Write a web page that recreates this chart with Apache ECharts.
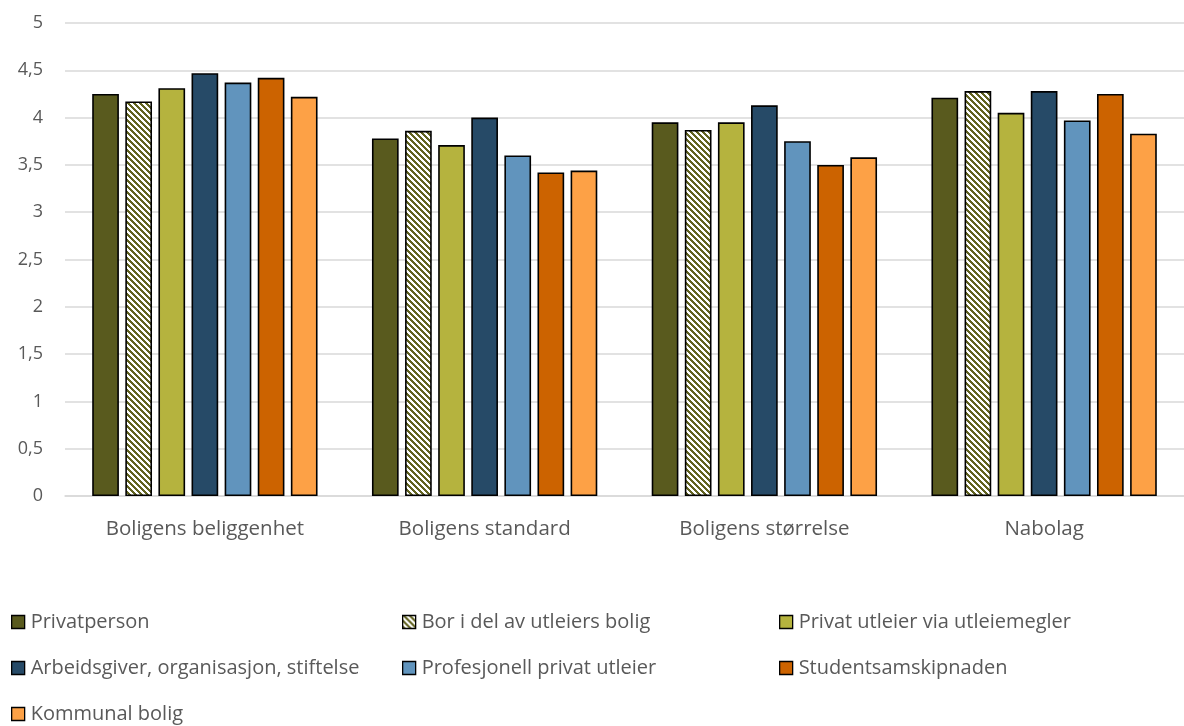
<!DOCTYPE html>
<html>
<head>
<meta charset="utf-8">
<script src="https://cdn.jsdelivr.net/npm/echarts@6/dist/echarts.min.js"></script>
<style>
  html, body { margin: 0; padding: 0; background: #fff; overflow: hidden; }
  #chart { width: 1184px; height: 726px; }
</style>
</head>
<body>
<div id="chart"></div>
<script>
// Satisfaction with housing aspects by type of landlord (scale 0–5)
const categories = ['Boligens beliggenhet', 'Boligens standard', 'Boligens størrelse', 'Nabolag'];

const privatperson      = [4.25, 3.78, 3.95, 4.21];
const borIDel           = [4.17, 3.86, 3.87, 4.28];
const utleiemegler      = [4.31, 3.71, 3.95, 4.05];
const arbeidsgiver      = [4.47, 4.00, 4.13, 4.28];
const profesjonell      = [4.37, 3.60, 3.75, 3.97];
const studentsamskipnad = [4.42, 3.42, 3.50, 4.25];
const kommunal          = [4.22, 3.44, 3.58, 3.83];

const seriesNames = [
  'Privatperson',
  'Bor i del av utleiers bolig',
  'Privat utleier via utleiemegler',
  'Arbeidsgiver, organisasjon, stiftelse',
  'Profesjonell privat utleier',
  'Studentsamskipnaden',
  'Kommunal bolig'
];
const seriesValues = [privatperson, borIDel, utleiemegler, arbeidsgiver, profesjonell, studentsamskipnad, kommunal];

const yTicks = ['0', '0,5', '1', '1,5', '2', '2,5', '3', '3,5', '4', '4,5', '5'];

// crisp diagonal olive stripes on white for the hatched series
function stripeTile() {
  const size = 6;
  const c = document.createElement('canvas');
  c.width = size; c.height = size;
  const ctx = c.getContext('2d');
  const img = ctx.createImageData(size, size);
  for (let y = 0; y < size; y++) {
    for (let x = 0; x < size; x++) {
      const on = ((x - y) % size + size) % size < 3;
      const p = (y * size + x) * 4;
      img.data[p]     = on ? 0x62 : 0xff;
      img.data[p + 1] = on ? 0x63 : 0xff;
      img.data[p + 2] = on ? 0x20 : 0xff;
      img.data[p + 3] = 255;
    }
  }
  ctx.putImageData(img, 0, 0);
  return c;
}

const colors = [
  '#595a1e',
  { image: stripeTile(), repeat: 'repeat' },
  '#b5b33e',
  '#264a67',
  '#6194bd',
  '#cc6300',
  '#fda146'
];

const chart = echarts.init(document.getElementById('chart'), null, { renderer: 'canvas' });

const font = "'Open Sans', 'Noto Sans', sans-serif";

const series = seriesNames.map((name, i) => ({
  name,
  type: 'bar',
  data: seriesValues[i],
  barWidth: 26.7,
  barGap: '24%',
  itemStyle: { color: colors[i], borderColor: '#000', borderWidth: 1.6 }
}));

function legendBlock(names, left) {
  return {
    type: 'plain',
    orient: 'vertical',
    left,
    top: 606,
    height: 130,
    itemWidth: 13,
    itemHeight: 13,
    itemGap: 24,
    icon: 'rect',
    selectedMode: false,
    data: names,
    textStyle: { color: '#595959', fontSize: 20, lineHeight: 22, fontFamily: font, padding: [0, 0, 0, 1] },
    itemStyle: { borderColor: '#000', borderWidth: 1.3 }
  };
}

chart.setOption({
  animation: false,
  backgroundColor: '#fff',
  grid: { left: 65, right: -9, top: 23, bottom: 230 },
  legend: [
    legendBlock([seriesNames[0], seriesNames[3], seriesNames[6]], 6),
    legendBlock([seriesNames[1], seriesNames[4]], 397),
    legendBlock([seriesNames[2], seriesNames[5]], 774)
  ],
  xAxis: {
    type: 'category',
    data: categories,
    axisLine: { lineStyle: { color: '#d9d9d9', width: 1.5 } },
    axisTick: { show: false },
    axisLabel: { color: '#595959', fontSize: 20.5, fontFamily: font, margin: 23 }
  },
  yAxis: {
    type: 'value',
    min: 0,
    max: 5,
    interval: 0.5,
    axisLine: { show: false },
    axisTick: { show: false },
    splitLine: { lineStyle: { color: '#d9d9d9', width: 1.5 } },
    axisLabel: {
      color: '#595959', fontSize: 18, fontFamily: font, margin: 22,
      formatter: v => yTicks[Math.round(v * 2)]
    }
  },
  series
});
</script>
</body>
</html>
